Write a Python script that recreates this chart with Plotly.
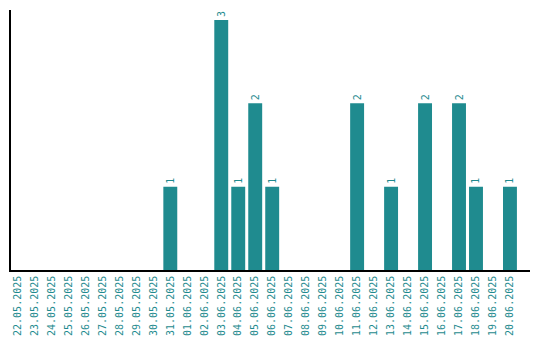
import plotly.graph_objects as go

dates = ["22.05.2025", "23.05.2025", "24.05.2025", "25.05.2025", "26.05.2025",
         "27.05.2025", "28.05.2025", "29.05.2025", "30.05.2025", "31.05.2025",
         "01.06.2025", "02.06.2025", "03.06.2025", "04.06.2025", "05.06.2025",
         "06.06.2025", "07.06.2025", "08.06.2025", "09.06.2025", "10.06.2025",
         "11.06.2025", "12.06.2025", "13.06.2025", "14.06.2025", "15.06.2025",
         "16.06.2025", "17.06.2025", "18.06.2025", "19.06.2025", "20.06.2025"]
counts = [0, 0, 0, 0, 0, 0, 0, 0, 0, 1,
          0, 0, 3, 1, 2, 1, 0, 0, 0, 0,
          2, 0, 1, 0, 2, 0, 2, 1, 0, 1]

teal = "#1f8b8f"
labels = [str(v) if v > 0 else "" for v in counts]

fig = go.Figure(go.Bar(
    x=dates, y=counts, text=labels, textposition="outside", textangle=-90,
    textfont=dict(family="DejaVu Sans Mono", size=10, color=teal),
    marker=dict(color=teal, line=dict(width=0)), cliponaxis=False,
))

fig.update_layout(
    width=532, height=332,
    margin=dict(l=3, r=10, t=2, b=70, autoexpand=False),
    paper_bgcolor="white", plot_bgcolor="white",
    bargap=0.18, showlegend=False,
    font=dict(family="DejaVu Sans Mono", size=10, color=teal),
)
fig.update_xaxes(type="category", range=[-0.38, 30.18], tickangle=-90,
                 showline=True, linecolor="black", linewidth=1.5,
                 showgrid=False, ticks="", automargin=False,
                 tickfont=dict(size=10, color=teal))
fig.update_yaxes(range=[0, 3.12], showline=True, linecolor="black", linewidth=1.5,
                 showgrid=False, showticklabels=False, ticks="", zeroline=False,
                 automargin=False)

fig.write_html("out.html")
